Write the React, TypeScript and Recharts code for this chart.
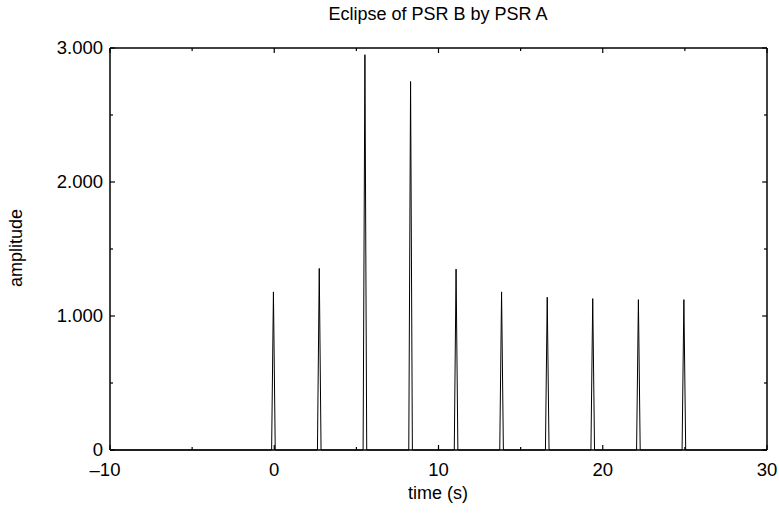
import { Label, Line, LineChart, XAxis, YAxis } from 'recharts';

// peak positions (s) and heights
const peakTimes = [-0.05, 2.74, 5.52, 8.3, 11.07, 13.84, 16.62, 19.39, 22.17, 24.94];
const peakAmps = [1180, 1355, 2950, 2750, 1350, 1180, 1140, 1130, 1122, 1122];
const xTicks = [-10, -5, 0, 5, 10, 15, 20, 25, 30];
const yTicks = [0, 500, 1000, 1500, 2000, 2500, 3000];
const timeRange = [-10, 30];
const PEAK_HALF_WIDTH = 0.11;

const FONT = '"Liberation Sans", Arial, Helvetica, sans-serif';

const profile: Array<{ t: number; amp: number }> = [{ t: timeRange[0], amp: 0 }];
peakTimes.forEach((t, i) => {
    profile.push({ t: t - PEAK_HALF_WIDTH, amp: 0 });
    profile.push({ t, amp: peakAmps[i] });
    profile.push({ t: t + PEAK_HALF_WIDTH, amp: 0 });
});
profile.push({ t: timeRange[1], amp: 0 });

const fmtAmp = (v: number) => (v === 0 ? '0' : `${v / 1000}.000`);

function BottomTick({ x, y, payload }: any) {
    const v = payload.value as number;
    const major = v % 10 === 0;
    const label = v < 0 ? `\u2013${Math.abs(v)}` : String(v);
    return (
        <g>
            <line x1={x} x2={x} y1={y} y2={y - (major ? 5 : 3)} stroke="#000" strokeWidth={1.2} />
            {major && (
                <text x={x} y={y + 13} dx={v < 0 ? -5 : 0} dy="0.7em" textAnchor="middle" fontSize={18.5} fontFamily={FONT} fill="#000">
                    {label}
                </text>
            )}
        </g>
    );
}

function TopTick({ x, y, payload }: any) {
    const major = (payload.value as number) % 10 === 0;
    return <line x1={x} x2={x} y1={y} y2={y + (major ? 5 : 3)} stroke="#000" strokeWidth={1.2} />;
}

function LeftTick({ x, y, payload }: any) {
    const v = payload.value as number;
    const major = v % 1000 === 0;
    return (
        <g>
            <line x1={x} x2={x + (major ? 5 : 3)} y1={y} y2={y} stroke="#000" strokeWidth={1.2} />
            {major && (
                <text x={x - 7} y={y} dy="0.34em" textAnchor="end" fontSize={18.5} fontFamily={FONT} fill="#000">
                    {fmtAmp(v)}
                </text>
            )}
        </g>
    );
}

function RightTick({ x, y, payload }: any) {
    const major = (payload.value as number) % 1000 === 0;
    return <line x1={x} x2={x - (major ? 5 : 3)} y1={y} y2={y} stroke="#000" strokeWidth={1.2} />;
}

export default function App() {
    return (
        <div style={{ position: 'absolute', left: 0, top: 0, width: 779, height: 514, background: '#fff' }}>
            <LineChart width={779} height={514} data={profile} margin={{ top: 47, right: 11, bottom: 63, left: 0 }}>
                <XAxis
                    xAxisId="bottom"
                    dataKey="t"
                    type="number"
                    domain={timeRange}
                    ticks={xTicks}
                    interval={0}
                    height={1}
                    tickSize={0}
                    tickMargin={0}
                    tickLine={false}
                    tick={BottomTick}
                    axisLine={{ stroke: '#000', strokeWidth: 1.5 }}
                >
                    <Label
                        content={() => (
                            <text x={438} y={499} textAnchor="middle" fontSize={18} fontFamily={FONT} fill="#000">
                                time (s)
                            </text>
                        )}
                    />
                </XAxis>
                <XAxis
                    xAxisId="top"
                    orientation="top"
                    dataKey="t"
                    type="number"
                    domain={timeRange}
                    ticks={xTicks}
                    interval={0}
                    height={1}
                    tickSize={0}
                    tickMargin={0}
                    tickLine={false}
                    tick={TopTick}
                    axisLine={{ stroke: '#000', strokeWidth: 1.5 }}
                >
                    <Label
                        content={() => (
                            <text x={438} y={20} textAnchor="middle" fontSize={18} fontFamily={FONT} fill="#000">
                                Eclipse of PSR B by PSR A
                            </text>
                        )}
                    />
                </XAxis>
                <YAxis
                    yAxisId="left"
                    type="number"
                    domain={[0, 3000]}
                    ticks={yTicks}
                    interval={0}
                    width={110}
                    tickSize={0}
                    tickMargin={0}
                    tickLine={false}
                    tick={LeftTick}
                    axisLine={{ stroke: '#000', strokeWidth: 1.5 }}
                >
                    <Label
                        content={() => (
                            <text
                                x={22}
                                y={248}
                                textAnchor="middle"
                                transform="rotate(-90 22 248)"
                                fontSize={18}
                                fontFamily={FONT}
                                fill="#000"
                            >
                                amplitude
                            </text>
                        )}
                    />
                </YAxis>
                <YAxis
                    yAxisId="right"
                    orientation="right"
                    type="number"
                    domain={[0, 3000]}
                    ticks={yTicks}
                    interval={0}
                    width={1}
                    tickSize={0}
                    tickMargin={0}
                    tickLine={false}
                    tick={RightTick}
                    axisLine={{ stroke: '#000', strokeWidth: 1.5 }}
                />
                <Line
                    xAxisId="bottom"
                    yAxisId="left"
                    type="linear"
                    dataKey="amp"
                    stroke="#000"
                    strokeWidth={1}
                    dot={false}
                    isAnimationActive={false}
                />
                <Line
                    xAxisId="top"
                    yAxisId="right"
                    type="linear"
                    dataKey="amp"
                    stroke="none"
                    strokeWidth={0}
                    dot={false}
                    activeDot={false}
                    legendType="none"
                    isAnimationActive={false}
                />
            </LineChart>
        </div>
    );
}
